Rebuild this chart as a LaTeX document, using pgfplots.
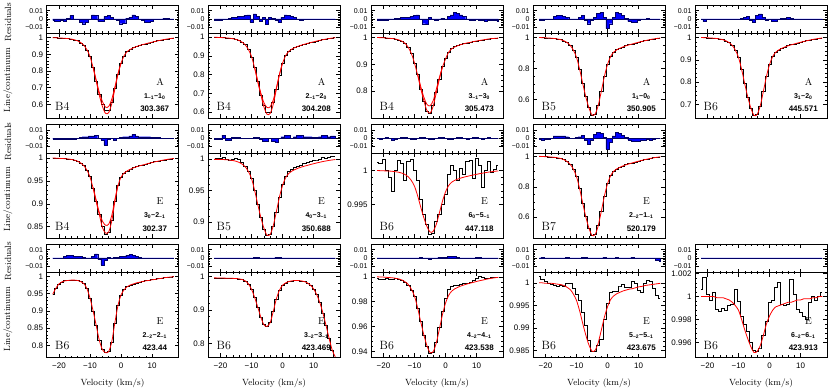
\documentclass[border=0pt]{standalone}
\usepackage{fontspec}
\setsansfont{Liberation Sans}
\usepackage{pgfplots}
\usepackage{pgfplotstable}
\pgfplotsset{compat=1.18}

% one table per panel: v = velocity, o = observed, m = model, r = residual
\pgfplotstableread{
v o m r
-22 1.0010 1.0000 -0.002
-21 0.9995 0.9991 -0.003
-20 0.9985 0.9982 -0.003
-19 0.9970 0.9973 -0.002
-18 0.9965 0.9960 -0.003
-17 0.9940 0.9942 0.001
-16 0.9925 0.9915 0.004
-15 0.9870 0.9874 0.000
-14 0.9815 0.9811 0.000
-13 0.9690 0.9708 -0.004
-12 0.9520 0.9550 -0.006
-11 0.9250 0.9280 -0.004
-10 0.8870 0.8875 -0.001
-9 0.8250 0.8200 0.005
-8 0.7400 0.7390 0.004
-7 0.6600 0.6550 -0.003
-6 0.6000 0.5880 -0.003
-5 0.5650 0.5460 0.003
-4 0.5630 0.5500 0.004
-3 0.6150 0.6030 0.002
-2 0.6950 0.6900 -0.001
-1 0.7800 0.7795 -0.002
0 0.8440 0.8470 -0.006
1 0.8890 0.8920 -0.005
2 0.9180 0.9168 0.001
3 0.9320 0.9303 0.002
4 0.9410 0.9393 0.005
5 0.9460 0.9469 0.003
6 0.9520 0.9532 0.000
7 0.9575 0.9586 -0.002
8 0.9625 0.9636 -0.004
9 0.9680 0.9685 -0.004
10 0.9725 0.9730 -0.003
11 0.9775 0.9775 -0.001
12 0.9815 0.9816 -0.001
13 0.9855 0.9856 -0.001
14 0.9895 0.9892 0.001
15 0.9925 0.9924 0.001
16 0.9950 0.9951 0.000
17 0.9975 0.9973 0.000
}\tA
\pgfplotstableread{
v o m r
-22 1.0008 1.0000 -0.002
-21 0.9995 0.9992 -0.002
-20 0.9985 0.9984 -0.002
-19 0.9975 0.9975 -0.001
-18 0.9965 0.9963 -0.001
-17 0.9950 0.9947 0.001
-16 0.9925 0.9922 0.002
-15 0.9880 0.9885 0.002
-14 0.9830 0.9828 0.003
-13 0.9740 0.9734 0.003
-12 0.9600 0.9590 0.004
-11 0.9360 0.9344 0.005
-10 0.8950 0.8975 -0.004
-9 0.8400 0.8360 0.006
-8 0.7650 0.7622 0.003
-7 0.6900 0.6925 -0.003
-6 0.6380 0.6270 0.002
-5 0.5960 0.5880 -0.007
-4 0.6000 0.5920 0.002
-3 0.6500 0.6400 0.001
-2 0.7190 0.7212 -0.002
-1 0.7960 0.7991 -0.004
0 0.8620 0.8606 0.002
1 0.9040 0.9016 0.005
2 0.9260 0.9242 0.004
3 0.9380 0.9365 0.003
4 0.9455 0.9447 0.002
5 0.9510 0.9516 -0.001
6 0.9565 0.9574 -0.002
7 0.9615 0.9623 -0.001
8 0.9660 0.9668 -0.001
9 0.9705 0.9713 -0.001
10 0.9750 0.9754 -0.001
11 0.9790 0.9795 -0.001
12 0.9830 0.9832 0.000
13 0.9868 0.9869 0.000
14 0.9902 0.9902 0.000
15 0.9930 0.9930 0.000
16 0.9955 0.9955 0.000
17 0.9970 0.9975 -0.001
}\tB
\pgfplotstableread{
v o m r
-22 1.0005 1.0000 -0.002
-21 0.9995 0.9995 -0.002
-20 0.9990 0.9990 -0.002
-19 0.9975 0.9980 -0.002
-18 0.9970 0.9970 -0.001
-17 0.9965 0.9960 0.000
-16 0.9940 0.9940 0.001
-15 0.9905 0.9910 0.001
-14 0.9865 0.9860 0.002
-13 0.9790 0.9780 0.002
-12 0.9620 0.9630 0.002
-11 0.9420 0.9400 0.003
-10 0.9030 0.9050 0.004
-9 0.8620 0.8600 0.005
-8 0.8080 0.8100 -0.001
-7 0.7620 0.7650 -0.006
-6 0.7250 0.7280 -0.007
-5 0.7160 0.7180 0.002
-4 0.7460 0.7430 -0.001
-3 0.7970 0.7930 -0.002
-2 0.8450 0.8440 0.000
-1 0.8910 0.8890 0.001
0 0.9210 0.9200 -0.001
1 0.9460 0.9450 0.003
2 0.9590 0.9580 0.005
3 0.9660 0.9650 0.008
4 0.9715 0.9700 0.007
5 0.9745 0.9740 0.005
6 0.9775 0.9770 0.003
7 0.9800 0.9800 0.000
8 0.9815 0.9820 -0.002
9 0.9845 0.9850 -0.002
10 0.9865 0.9870 -0.001
11 0.9885 0.9890 -0.002
12 0.9905 0.9910 -0.002
13 0.9925 0.9930 -0.003
14 0.9945 0.9950 -0.002
15 0.9960 0.9960 -0.002
16 0.9970 0.9970 -0.002
17 0.9980 0.9980 -0.003
}\tC
\pgfplotstableread{
v o r
-22 1.0000 -0.002
-21 0.9990 -0.002
-20 0.9980 -0.001
-19 0.9969 -0.001
-18 0.9954 0.000
-17 0.9934 0.003
-16 0.9903 0.004
-15 0.9857 0.004
-14 0.9786 0.003
-13 0.9669 0.002
-12 0.9490 0.000
-11 0.9184 -0.001
-10 0.8725 0.000
-9 0.7960 0.002
-8 0.7042 0.004
-7 0.6175 -0.002
-6 0.5461 -0.006
-5 0.5002 -0.002
-4 0.5053 0.002
-3 0.5614 0.007
-2 0.6532 0.008
-1 0.7501 0.002
0 0.8266 -0.012
1 0.8776 -0.006
2 0.9057 0.002
3 0.9210 0.008
4 0.9312 0.007
5 0.9398 0.004
6 0.9470 0.001
7 0.9531 -0.003
8 0.9587 -0.004
9 0.9643 -0.004
10 0.9694 -0.002
11 0.9745 -0.001
12 0.9791 0.000
13 0.9837 0.001
14 0.9878 -0.001
15 0.9913 -0.001
16 0.9944 -0.001
17 0.9969 0.000
}\tD
\pgfplotstableread{
v o r
-22 1.0000 -0.001
-21 0.9993 -0.003
-20 0.9986 -0.001
-19 0.9979 -0.001
-18 0.9968 -0.001
-17 0.9954 -0.001
-16 0.9932 0.000
-15 0.9900 -0.001
-14 0.9850 -0.001
-13 0.9768 0.000
-12 0.9643 0.000
-11 0.9429 -0.001
-10 0.9108 0.000
-9 0.8572 0.001
-8 0.7929 0.002
-7 0.7323 0.003
-6 0.6823 -0.002
-5 0.6501 -0.004
-4 0.6537 0.004
-3 0.6930 0.006
-2 0.7572 0.002
-1 0.8251 -0.002
0 0.8786 -0.001
1 0.9143 -0.003
2 0.9340 -0.003
3 0.9447 0.000
4 0.9518 0.001
5 0.9579 0.001
6 0.9629 0.002
7 0.9672 0.001
8 0.9711 0.000
9 0.9750 -0.001
10 0.9786 -0.001
11 0.9822 0.000
12 0.9854 -0.001
13 0.9886 -0.001
14 0.9914 -0.001
15 0.9939 -0.001
16 0.9961 -0.001
17 0.9979 -0.001
}\tE
\pgfplotstableread{
v o m r
-22 1.0003 1.0000 -0.001
-21 0.9998 0.9997 -0.001
-20 0.9993 0.9993 -0.001
-19 0.9992 0.9990 -0.001
-18 0.9985 0.9985 -0.001
-17 0.9980 0.9979 -0.001
-16 0.9968 0.9969 -0.001
-15 0.9955 0.9954 -0.001
-14 0.9932 0.9931 0.000
-13 0.9895 0.9893 0.001
-12 0.9840 0.9835 0.002
-11 0.9740 0.9736 0.002
-10 0.9590 0.9588 0.003
-9 0.9345 0.9340 0.003
-8 0.9050 0.9043 0.004
-7 0.8760 0.8763 0.000
-6 0.8500 0.8480 -0.002
-5 0.8340 0.8360 -0.008
-4 0.8370 0.8380 -0.001
-3 0.8640 0.8620 0.000
-2 0.9050 0.9040 -0.002
-1 0.9400 0.9390 0.000
0 0.9580 0.9580 0.001
1 0.9670 0.9670 0.002
2 0.9720 0.9720 0.002
3 0.9760 0.9755 0.003
4 0.9790 0.9785 0.005
5 0.9810 0.9810 0.003
6 0.9830 0.9830 0.002
7 0.9850 0.9848 0.002
8 0.9868 0.9866 0.002
9 0.9885 0.9885 0.002
10 0.9900 0.9901 0.001
11 0.9918 0.9918 0.001
12 0.9932 0.9932 0.001
13 0.9947 0.9947 0.000
14 0.9960 0.9960 0.000
15 0.9972 0.9972 0.000
16 0.9982 0.9982 0.000
17 0.9990 0.9990 0.000
}\tF
\pgfplotstableread{
v o m r
-22 0.9990 0.9995 -0.001
-21 1.0005 0.9995 -0.001
-20 1.0015 0.9994 -0.001
-19 1.0020 0.9992 0.004
-18 1.0000 0.9989 -0.002
-17 0.9985 0.9984 -0.002
-16 1.0000 0.9977 0.001
-15 1.0008 0.9966 0.001
-14 0.9990 0.9948 0.001
-13 0.9945 0.9920 0.000
-12 0.9885 0.9877 0.000
-11 0.9810 0.9803 0.000
-10 0.9690 0.9693 0.000
-9 0.9510 0.9508 0.001
-8 0.9290 0.9287 0.001
-7 0.9070 0.9078 -0.001
-6 0.8890 0.8905 -0.003
-5 0.8790 0.8795 -0.003
-4 0.8810 0.8807 0.000
-3 0.8940 0.8942 -0.004
-2 0.9160 0.9164 -0.005
-1 0.9400 0.9397 0.000
0 0.9600 0.9582 0.002
1 0.9730 0.9705 0.004
2 0.9800 0.9772 0.004
3 0.9835 0.9809 0.000
4 0.9865 0.9834 0.002
5 0.9885 0.9855 0.004
6 0.9905 0.9872 0.004
7 0.9925 0.9887 0.002
8 0.9945 0.9900 0.002
9 0.9960 0.9914 0.002
10 0.9975 0.9926 0.001
11 0.9985 0.9939 0.001
12 1.0000 0.9950 0.002
13 1.0020 0.9961 0.004
14 1.0010 0.9970 0.004
15 1.0030 0.9979 0.002
16 1.0040 0.9986 0.003
17 1.0045 0.9993 0.003
}\tG
\pgfplotstableread{
v o m r
-22 1.0012 1.00000 0.000
-21 1.0010 0.99998 -0.001
-20 1.0016 0.99996 0.000
-19 1.0000 0.99994 0.001
-18 0.9990 0.99992 0.000
-17 0.9969 0.99988 -0.002
-16 1.0001 0.99982 -0.001
-15 1.0015 0.99974 0.000
-14 1.0010 0.99961 0.001
-13 0.9985 0.99940 0.001
-12 1.0013 0.99907 0.000
-11 1.0016 0.99851 -0.001
-10 1.0000 0.99768 -0.001
-9 0.9985 0.99628 0.000
-8 0.9958 0.99461 0.001
-7 0.9935 0.99303 0.001
-6 0.9920 0.99172 0.000
-5 0.9905 0.99089 -0.001
-4 0.9907 0.99098 -0.001
-3 0.9925 0.99200 0.000
-2 0.9935 0.99368 0.001
-1 0.9950 0.99544 0.001
0 0.9965 0.99684 0.000
1 0.9995 0.99777 -0.001
2 1.0008 0.99828 -0.001
3 1.0000 0.99856 0.000
4 0.9985 0.99874 0.001
5 1.0004 0.99890 0.001
6 0.9995 0.99903 0.000
7 1.0013 0.99914 -0.001
8 1.0015 0.99925 0.000
9 0.9988 0.99935 0.001
10 1.0018 0.99944 0.001
11 1.0008 0.99954 0.000
12 0.9975 0.99962 -0.001
13 1.0000 0.99970 0.000
14 1.0013 0.99978 0.001
15 0.9998 0.99984 0.000
16 1.0002 0.99990 0.000
17 1.0008 0.99994 0.000
}\tH
\pgfplotstableread{
v o r
-22 1.0000 -0.001
-21 0.9989 -0.002
-20 0.9979 -0.001
-19 0.9968 -0.001
-18 0.9952 0.000
-17 0.9931 0.003
-16 0.9899 0.003
-15 0.9852 0.003
-14 0.9777 0.003
-13 0.9656 0.002
-12 0.9470 0.000
-11 0.9152 0.000
-10 0.8675 0.001
-9 0.7880 0.002
-8 0.6926 0.004
-7 0.6025 -0.002
-6 0.5283 -0.007
-5 0.4806 -0.002
-4 0.4859 0.005
-3 0.5442 0.007
-2 0.6396 0.006
-1 0.7403 0.001
0 0.8198 -0.013
1 0.8728 -0.005
2 0.9020 0.003
3 0.9179 0.007
4 0.9285 0.006
5 0.9375 0.004
6 0.9449 0.001
7 0.9512 -0.002
8 0.9571 -0.003
9 0.9629 -0.003
10 0.9682 -0.003
11 0.9735 -0.002
12 0.9783 -0.002
13 0.9830 -0.001
14 0.9873 -0.002
15 0.9910 -0.001
16 0.9942 0.000
17 0.9968 0.000
}\tI
\pgfplotstableread{
v o r
-22 0.9480 -0.001
-21 0.9650 -0.001
-20 0.9780 -0.001
-19 0.9840 -0.001
-18 0.9870 0.002
-17 0.9880 0.003
-16 0.9890 0.003
-15 0.9890 0.002
-14 0.9880 0.002
-13 0.9850 0.002
-12 0.9790 0.001
-11 0.9650 0.000
-10 0.9370 -0.001
-9 0.9000 0.002
-8 0.8580 0.005
-7 0.8150 -0.002
-6 0.7880 -0.009
-5 0.7790 -0.003
-4 0.7820 0.001
-3 0.8100 0.000
-2 0.8650 0.001
-1 0.9150 0.001
0 0.9460 0.002
1 0.9610 0.002
2 0.9700 0.003
3 0.9750 0.004
4 0.9780 0.003
5 0.9810 0.002
6 0.9830 0.001
7 0.9850 0.000
8 0.9870 0.000
9 0.9880 -0.001
10 0.9900 -0.001
11 0.9910 -0.001
12 0.9930 0.000
13 0.9940 0.000
14 0.9960 -0.001
15 0.9970 0.000
16 0.9980 0.000
17 0.9990 0.000
}\tJ
\pgfplotstableread{
v o r
-22 0.9960 0.000
-21 0.9958 0.000
-20 0.9955 0.000
-19 0.9953 0.000
-18 0.9950 0.000
-17 0.9948 0.000
-16 0.9945 0.000
-15 0.9940 0.000
-14 0.9930 0.000
-13 0.9910 -0.001
-12 0.9870 -0.001
-11 0.9780 0.000
-10 0.9620 0.000
-9 0.9380 0.001
-8 0.9090 0.001
-7 0.8790 0.000
-6 0.8560 -0.001
-5 0.8510 -0.001
-4 0.8620 0.000
-3 0.8950 0.000
-2 0.9330 0.001
-1 0.9590 0.001
0 0.9740 0.000
1 0.9810 0.000
2 0.9850 0.000
3 0.9870 0.000
4 0.9880 0.000
5 0.9880 0.000
6 0.9870 0.000
7 0.9850 0.000
8 0.9810 0.000
9 0.9740 0.000
10 0.9630 0.000
11 0.9460 0.000
12 0.9220 0.000
13 0.8910 0.000
14 0.8540 -0.001
15 0.8150 -0.001
16 0.7800 0.000
17 0.7600 0.000
}\tK
\pgfplotstableread{
v o m r
-22 0.9985 1.0000 -0.001
-21 0.9982 0.9999 -0.001
-20 0.9980 0.9998 -0.001
-19 0.9985 0.9996 0.000
-18 0.9978 0.9994 -0.001
-17 0.9982 0.9992 0.000
-16 0.9985 0.9988 0.000
-15 0.9980 0.9983 0.000
-14 0.9972 0.9974 0.000
-13 0.9960 0.9960 0.000
-12 0.9935 0.9938 0.000
-11 0.9895 0.9900 0.000
-10 0.9840 0.9845 0.000
-9 0.9750 0.9751 0.000
-8 0.9640 0.9639 0.001
-7 0.9530 0.9534 0.000
-6 0.9440 0.9446 -0.001
-5 0.9385 0.9390 -0.002
-4 0.9395 0.9397 -0.001
-3 0.9470 0.9465 0.000
-2 0.9590 0.9577 0.001
-1 0.9720 0.9695 0.001
0 0.9830 0.9789 0.001
1 0.9900 0.9851 0.002
2 0.9920 0.9885 0.002
3 0.9930 0.9904 0.002
4 0.9935 0.9916 0.001
5 0.9940 0.9927 0.000
6 0.9945 0.9935 0.000
7 0.9950 0.9943 0.000
8 0.9960 0.9950 0.000
9 0.9970 0.9956 0.000
10 0.9990 0.9963 0.001
11 1.0005 0.9969 0.001
12 0.9995 0.9974 0.000
13 0.9985 0.9980 0.000
14 0.9990 0.9985 0.000
15 0.9995 0.9989 0.000
16 0.9998 0.9993 0.000
17 1.0000 0.9996 0.000
}\tL
\pgfplotstableread{
v o m r
-22 1.0014 1.0000 0.000
-21 1.0008 1.0000 0.001
-20 1.0003 0.9999 0.000
-19 1.0000 0.9999 0.000
-18 0.9996 0.9999 -0.001
-17 0.9994 0.9998 0.000
-16 0.9992 0.9997 0.000
-15 0.9994 0.9996 0.000
-14 0.9992 0.9994 0.000
-13 1.0000 0.9990 0.001
-12 0.9998 0.9985 0.000
-11 0.9988 0.9975 0.000
-10 0.9975 0.9961 -0.001
-9 0.9962 0.9938 0.000
-8 0.9935 0.9910 0.001
-7 0.9905 0.9884 0.001
-6 0.9872 0.9862 0.000
-5 0.9848 0.9848 0.000
-4 0.9847 0.9850 -0.001
-3 0.9862 0.9867 0.000
-2 0.9875 0.9895 0.000
-1 0.9918 0.9924 0.001
0 0.9955 0.9947 0.000
1 0.9978 0.9963 0.000
2 0.9982 0.9971 0.000
3 0.9982 0.9976 0.001
4 0.9993 0.9979 0.000
5 0.9997 0.9982 0.000
6 0.9991 0.9984 0.000
7 0.9990 0.9986 0.000
8 1.0004 0.9987 0.001
9 1.0000 0.9989 0.000
10 0.9984 0.9991 -0.001
11 0.9980 0.9992 -0.001
12 1.0000 0.9994 0.000
13 1.0006 0.9995 0.000
14 1.0003 0.9996 0.000
15 0.9988 0.9997 -0.001
16 0.9972 0.9998 -0.003
17 0.9965 0.9999 -0.004
}\tM
\pgfplotstableread{
v o m r
-22 1.0006 1.0000 0.000
-21 1.0017 1.0000 0.000
-20 1.0002 1.0000 0.000
-19 0.9997 1.0000 0.000
-18 1.0004 1.0000 0.000
-17 0.9989 0.9999 0.000
-16 0.9987 0.9999 0.000
-15 0.9990 0.9999 0.000
-14 0.9988 0.9998 0.000
-13 0.9992 0.9997 0.000
-12 0.9993 0.9995 0.000
-11 1.0006 0.9992 0.000
-10 0.9996 0.9988 0.000
-9 0.9983 0.9980 0.000
-8 0.9976 0.9971 0.000
-7 0.9970 0.9963 0.000
-6 0.9960 0.9956 -0.001
-5 0.9953 0.9951 -0.001
-4 0.9952 0.9952 0.000
-3 0.9955 0.9957 0.000
-2 0.9966 0.9966 0.000
-1 0.9978 0.9976 0.000
0 0.9995 0.9983 0.000
1 0.9997 0.9988 0.000
2 1.0008 0.9991 0.000
3 1.0012 0.9992 0.000
4 0.9993 0.9993 0.000
5 0.9992 0.9994 0.000
6 0.9993 0.9995 0.000
7 1.0015 0.9995 0.000
8 1.0002 0.9996 0.000
9 0.9989 0.9997 -0.001
10 0.9986 0.9997 -0.001
11 0.9983 0.9998 -0.001
12 0.9980 0.9998 -0.001
13 0.9995 0.9998 0.000
14 1.0000 0.9999 0.000
15 0.9997 0.9999 0.000
16 1.0000 1.0000 0.000
17 1.0004 1.0000 0.000
}\tN

\pgfplotsset{
  base/.style={scale only axis, width=132pt, xmin=-24, xmax=18.5,
    tick align=inside, xtick={-20,-10,0,10}, minor x tick num=4,
    major tick length=4pt, minor tick length=2pt,
    axis line style={line width=0.6pt},
    every tick/.style={black, line width=0.4pt},
    xticklabels={}, scaled y ticks=false, scaled x ticks=false,
    tick label style={font=\sffamily\fontsize{8}{8}\selectfont},
    yticklabel style={/pgf/number format/fixed, /pgf/number format/precision=3,
      /pgf/number format/assume math mode=true},
    anchor=north west},
  res/.style={base, height=28.5pt, ymin=-0.018, ymax=0.017,
    ytick={-0.01,0,0.01}, yticklabels={−0.01,0,0.01}, minor y tick num=4,
    yticklabel style={font=\sffamily\fontsize{7}{7}\selectfont}},
  spec/.style={base, height=85pt, minor y tick num=4},
  bot/.style={xticklabels={−20,−10,0,10}, xlabel={Velocity (km/s)},
    xticklabel style={yshift=-2pt},
    xlabel style={font=\fontsize{9}{9}\selectfont, at={(axis description cs:0.5,-0.3)}, anchor=center}},
  obs/.style={black, const plot mark mid, line width=0.6pt, no marks},
  mod/.style={red, line width=0.8pt, smooth, no marks},
  rfill/.style={draw=blue!40!black, fill=blue, const plot mark mid, line width=0.4pt, no marks},
}

\newcommand\lab[4]{%
  \node[font=\fontsize{12}{12}\selectfont] at (rel axis cs:0.12,0.14) {#1};
  \node[font=\fontsize{10}{10}\selectfont] at (rel axis cs:0.86,0.43) {#2};
  \node[font=\sffamily\bfseries\fontsize{7}{7}\selectfont] at (rel axis cs:0.82,0.26) {#3};
  \node[font=\sffamily\bfseries\fontsize{8}{8}\selectfont] at (rel axis cs:0.82,0.11) {#4};}
\newcommand\sbs[1]{\textsubscript{#1}}

\begin{document}
\begin{tikzpicture}
\useasboundingbox (0pt,0pt) rectangle (830pt,388pt);

% y labels
\foreach \yr/\ys in {366/308, 246.5/188.5, 127/69} {
  \node[rotate=90, font=\fontsize{9}{9}\selectfont] at (8pt,\yr pt) {Residuals};
  \node[rotate=90, font=\fontsize{9}{9}\selectfont] at (8pt,\ys pt) {Line/continuum};
}

% ---------------- row 1 ----------------
\begin{axis}[res, at={(46.5pt,383pt)}]
\addplot[rfill] table[x=v,y=r]{\tA} \closedcycle;
\end{axis}
\begin{axis}[spec, at={(46.5pt,354.5pt)}, ymin=0.515, ymax=1.025, ytick={0.6,0.7,0.8,0.9,1}]
\addplot[obs] table[x=v,y=o]{\tA};
\addplot[mod] table[x=v,y=m]{\tA};
\addplot[mod] coordinates {(-9,0.824) (-8,0.746) (-7,0.672) (-6,0.617) (-5,0.583) (-4,0.587) (-3,0.630) (-2,0.703) (-1,0.782) (0,0.848)};
\lab{B4}{A}{1\sbs{−1}−1\sbs{0}}{303.367}
\end{axis}

\begin{axis}[res, at={(208pt,383pt)}]
\addplot[rfill] table[x=v,y=r]{\tB} \closedcycle;
\end{axis}
\begin{axis}[spec, at={(208pt,354.5pt)}, ymin=0.565, ymax=1.02, ytick={0.6,0.7,0.8,0.9,1}]
\addplot[obs] table[x=v,y=o]{\tB};
\addplot[mod] table[x=v,y=m]{\tB};
\addplot[mod] coordinates {(-9,0.840) (-8,0.768) (-7,0.702) (-6,0.650) (-5,0.624) (-4,0.627) (-3,0.664) (-2,0.728) (-1,0.801) (0,0.862)};
\lab{B4}{A}{2\sbs{−1}−2\sbs{0}}{304.208}
\end{axis}

\begin{axis}[res, at={(371pt,383pt)}]
\addplot[rfill] table[x=v,y=r]{\tC} \closedcycle;
\end{axis}
\begin{axis}[spec, at={(371pt,354.5pt)}, ymin=0.698, ymax=1.015, ytick={0.8,0.9,1}]
\addplot[obs] table[x=v,y=o]{\tC};
\addplot[mod] table[x=v,y=m]{\tC};
\addplot[mod] coordinates {(-9,0.866) (-8,0.818) (-7,0.778) (-6,0.751) (-5,0.745) (-4,0.764) (-3,0.806) (-2,0.850) (-1,0.891)};
\lab{B4}{A}{3\sbs{−1}−3\sbs{0}}{305.473}
\end{axis}

\begin{axis}[res, at={(533pt,383pt)}]
\addplot[rfill] table[x=v,y=r]{\tD} \closedcycle;
\end{axis}
\begin{axis}[spec, at={(533pt,354.5pt)}, ymin=0.477, ymax=1.026, ytick={0.6,0.8,1}, minor y tick num=3]
\addplot[obs] table[x=v,y=o]{\tD};
\addplot[mod] table[x=v,y=o]{\tD};
\lab{B5}{A}{1\sbs{1}−0\sbs{0}}{350.905}
\end{axis}

\begin{axis}[res, at={(695pt,383pt)}]
\addplot[rfill] table[x=v,y=r]{\tE} \closedcycle;
\end{axis}
\begin{axis}[spec, at={(695pt,354.5pt)}, ymin=0.636, ymax=1.018, ytick={0.7,0.8,0.9,1}]
\addplot[obs] table[x=v,y=o]{\tE};
\addplot[mod] table[x=v,y=o]{\tE};
\lab{B6}{A}{3\sbs{1}−2\sbs{0}}{445.571}
\end{axis}

% ---------------- row 2 ----------------
\begin{axis}[res, at={(46.5pt,263.5pt)}]
\addplot[rfill] table[x=v,y=r]{\tF} \closedcycle;
\end{axis}
\begin{axis}[spec, at={(46.5pt,235pt)}, ymin=0.825, ymax=1.011, ytick={0.85,0.9,0.95,1}]
\addplot[obs] table[x=v,y=o]{\tF};
\addplot[mod] table[x=v,y=m]{\tF};
\addplot[mod] coordinates {(-9,0.936) (-8,0.908) (-7,0.881) (-6,0.862) (-5,0.853) (-4,0.855) (-3,0.874) (-2,0.908) (-1,0.941)};
\lab{B4}{E}{3\sbs{0}−2\sbs{−1}}{302.37}
\end{axis}

\begin{axis}[res, at={(208pt,263.5pt)}]
\addplot[rfill] table[x=v,y=r]{\tG} \closedcycle;
\end{axis}
\begin{axis}[spec, at={(208pt,235pt)}, ymin=0.875, ymax=1.0096, ytick={0.9,0.95,1}]
\addplot[obs] table[x=v,y=o]{\tG};
\addplot[mod] table[x=v,y=m]{\tG};
\lab{B5}{E}{4\sbs{0}−3\sbs{−1}}{350.688}
\end{axis}

\begin{axis}[res, at={(371pt,263.5pt)}]
\addplot[rfill] table[x=v,y=r]{\tH} \closedcycle;
\end{axis}
\begin{axis}[spec, at={(371pt,235pt)}, ymin=0.990, ymax=1.0026, ytick={0.995,1}]
\addplot[obs] table[x=v,y=o]{\tH};
\addplot[mod] table[x=v,y=m]{\tH};
\lab{B6}{E}{6\sbs{0}−5\sbs{−1}}{447.118}
\end{axis}

\begin{axis}[res, at={(533pt,263.5pt)}]
\addplot[rfill] table[x=v,y=r]{\tI} \closedcycle;
\end{axis}
\begin{axis}[spec, at={(533pt,235pt)}, ymin=0.463, ymax=1.022, ytick={0.6,0.8,1}, minor y tick num=3]
\addplot[obs] table[x=v,y=o]{\tI};
\addplot[mod] table[x=v,y=o]{\tI};
\lab{B7}{E}{2\sbs{−2}−1\sbs{−1}}{520.179}
\end{axis}

% ---------------- row 3 ----------------
\begin{axis}[res, at={(46.5pt,144pt)}]
\addplot[rfill] table[x=v,y=r]{\tJ} \closedcycle;
\end{axis}
\begin{axis}[spec, bot, at={(46.5pt,115.5pt)}, ymin=0.765, ymax=1.011, ytick={0.8,0.85,0.9,0.95,1}]
\addplot[obs] table[x=v,y=o]{\tJ};
\addplot[mod] table[x=v,y=o]{\tJ};
\lab{B6}{E}{2\sbs{−2}−2\sbs{−1}}{423.44}
\end{axis}

\begin{axis}[res, at={(208pt,144pt)}]
\addplot[rfill] table[x=v,y=r]{\tK} \closedcycle;
\end{axis}
\begin{axis}[spec, bot, at={(208pt,115.5pt)}, ymin=0.758, ymax=1.012, ytick={0.8,0.9,1}]
\addplot[obs] table[x=v,y=o]{\tK};
\addplot[mod] table[x=v,y=o]{\tK};
\lab{B6}{E}{3\sbs{−2}−3\sbs{−1}}{423.469}
\end{axis}

\begin{axis}[res, at={(371pt,144pt)}]
\addplot[rfill] table[x=v,y=r]{\tL} \closedcycle;
\end{axis}
\begin{axis}[spec, bot, at={(371pt,115.5pt)}, ymin=0.935, ymax=1.0035, ytick={0.94,0.96,0.98,1}]
\addplot[obs] table[x=v,y=o]{\tL};
\addplot[mod] table[x=v,y=m]{\tL};
\lab{B6}{E}{4\sbs{−2}−4\sbs{−1}}{423.538}
\end{axis}

\begin{axis}[res, at={(533pt,144pt)}]
\addplot[rfill] table[x=v,y=r]{\tM} \closedcycle;
\end{axis}
\begin{axis}[spec, bot, at={(533pt,115.5pt)}, ymin=0.9834, ymax=1.0023, ytick={0.985,0.99,0.995,1}]
\addplot[obs] table[x=v,y=o]{\tM};
\addplot[mod] table[x=v,y=m]{\tM};
\lab{B6}{E}{5\sbs{−2}−5\sbs{−1}}{423.675}
\end{axis}

\begin{axis}[res, at={(695pt,144pt)}]
\addplot[rfill] table[x=v,y=r]{\tN} \closedcycle;
\end{axis}
\begin{axis}[spec, bot, at={(695pt,115.5pt)}, ymin=0.99467, ymax=1.0021, ytick={0.996,0.998,1,1.002}]
\addplot[obs] table[x=v,y=o]{\tN};
\addplot[mod] table[x=v,y=m]{\tN};
\lab{B6}{E}{6\sbs{−2}−6\sbs{−1}}{423.913}
\end{axis}
\end{tikzpicture}
\end{document}
